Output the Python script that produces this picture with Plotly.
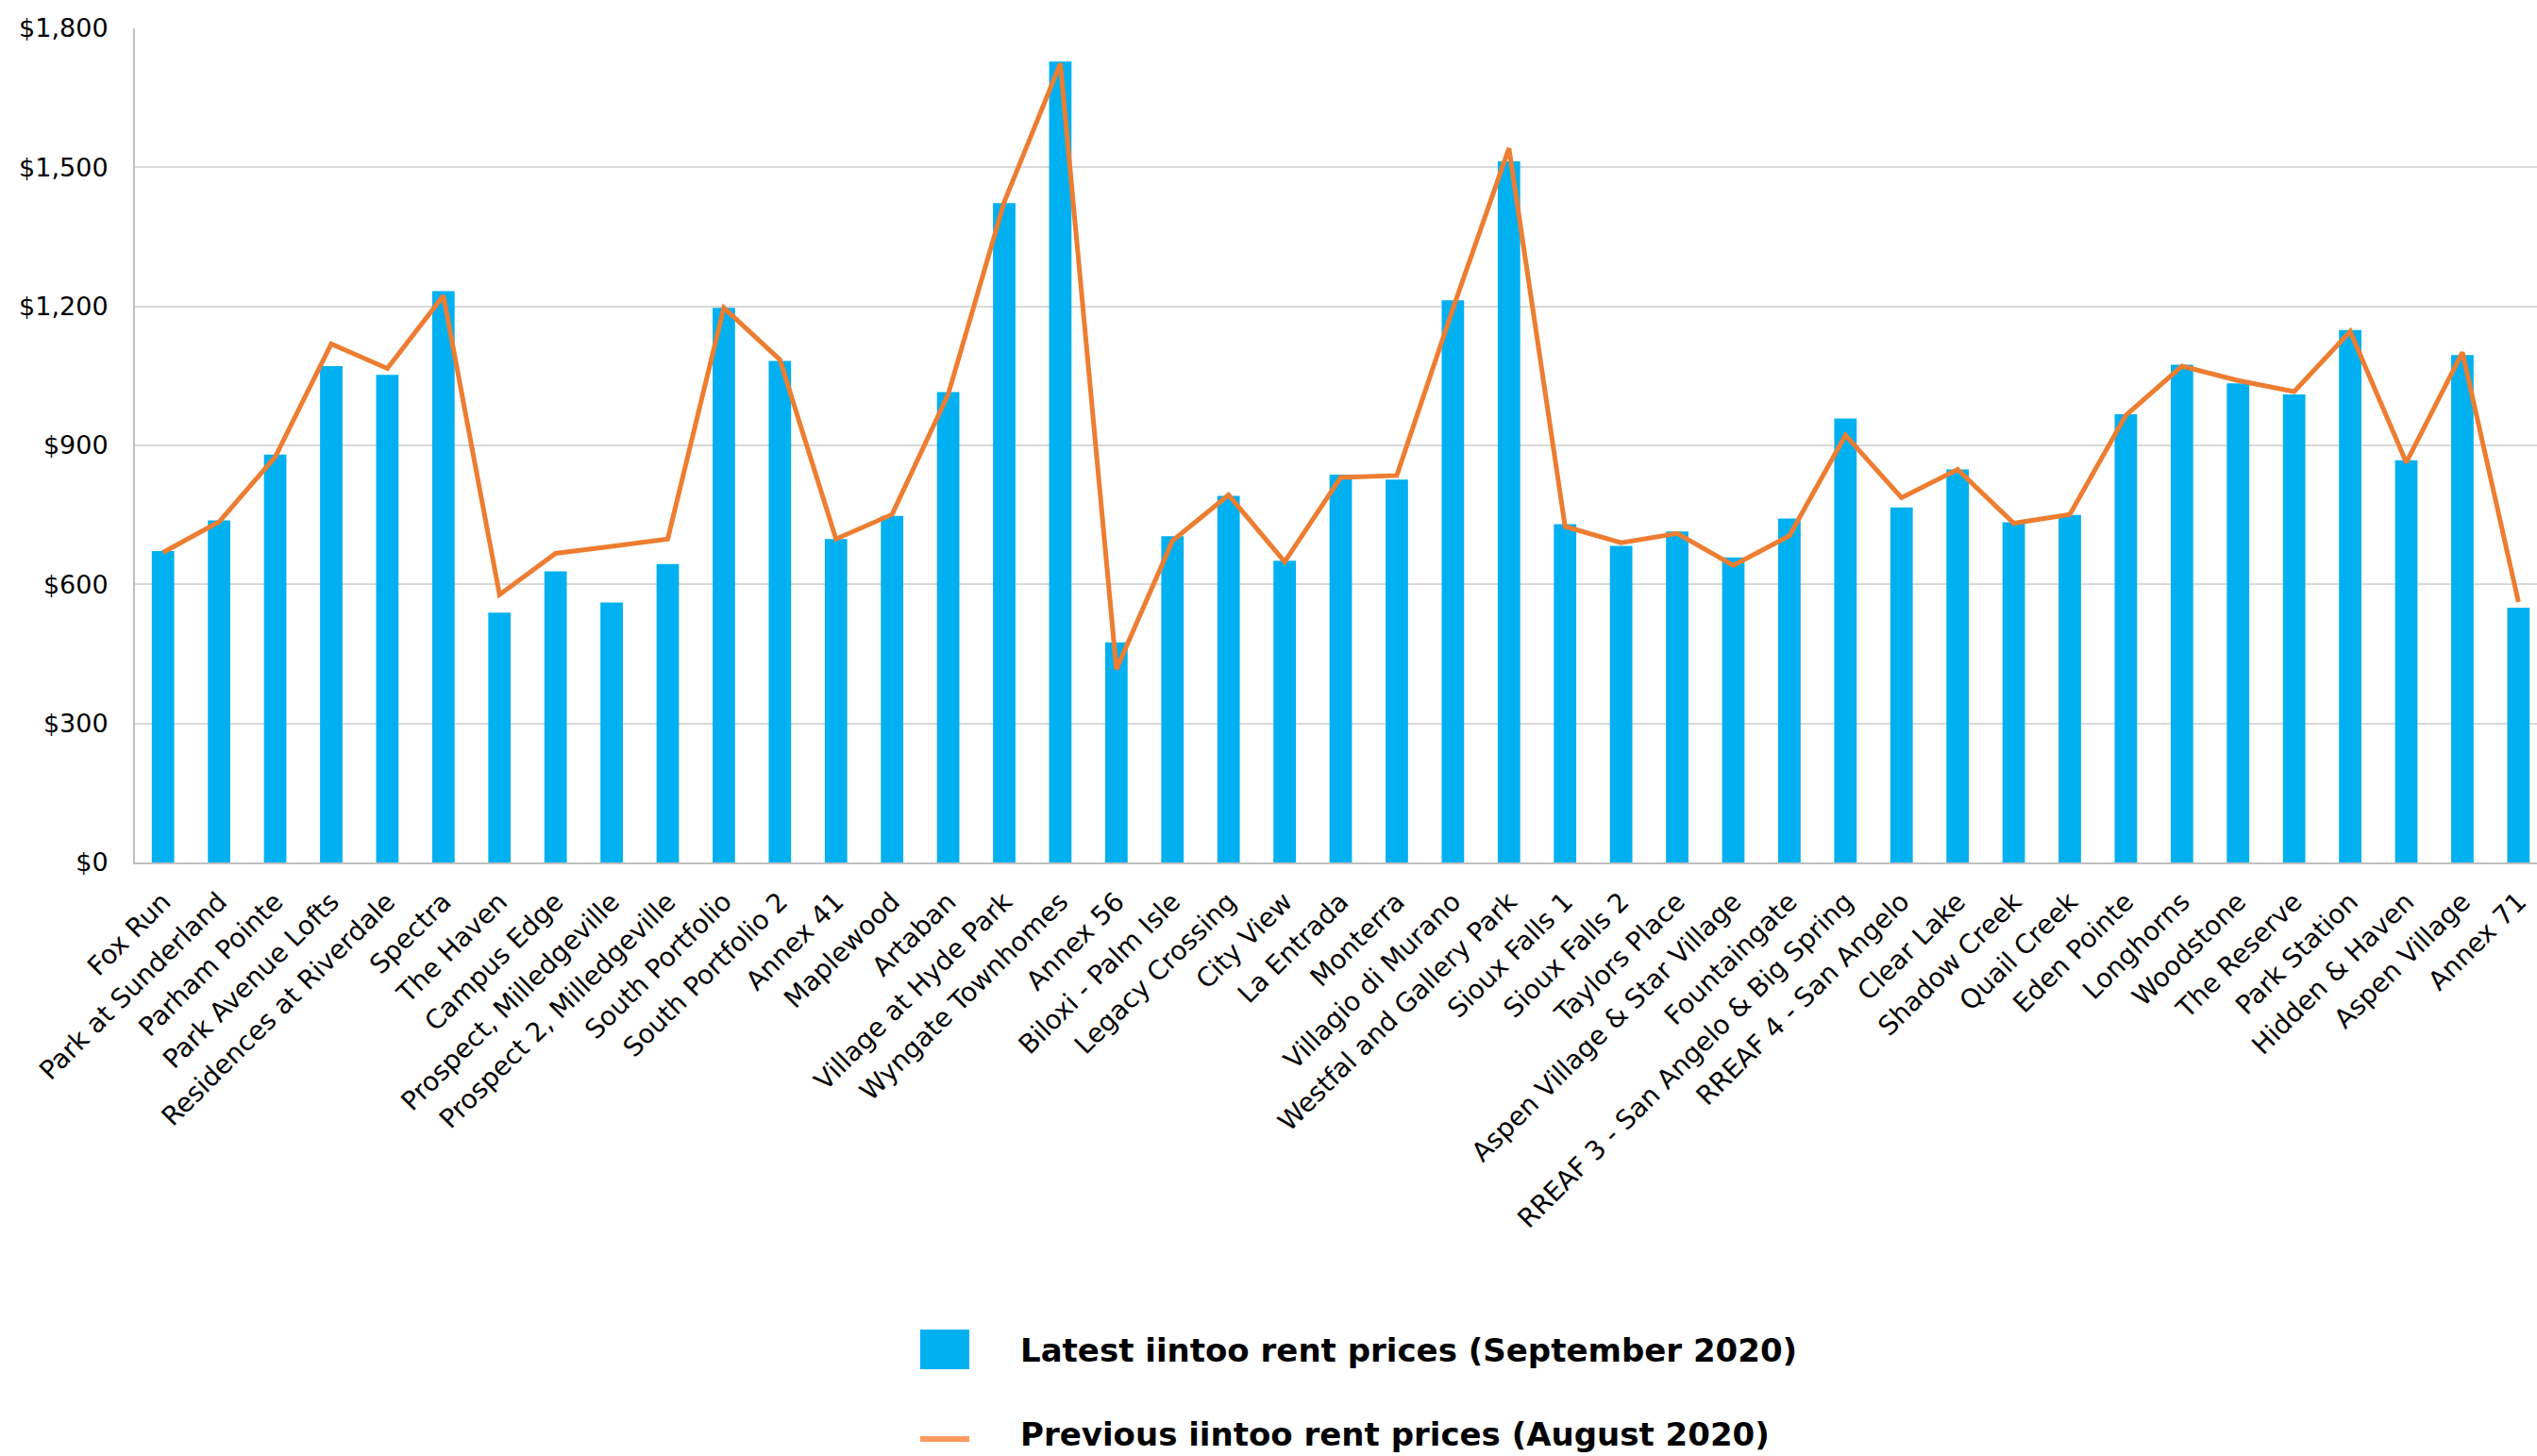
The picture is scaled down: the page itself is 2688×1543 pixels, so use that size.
import plotly.graph_objects as go

W, H = 2688, 1543

properties = [
    "Fox Run", "Park at Sunderland", "Parham Pointe", "Park Avenue Lofts",
    "Residences at Riverdale", "Spectra", "The Haven", "Campus Edge",
    "Prospect, Milledgeville", "Prospect 2, Milledgeville", "South Portfolio",
    "South Portfolio 2", "Annex 41", "Maplewood", "Artaban", "Village at Hyde Park",
    "Wyngate Townhomes", "Annex 56", "Biloxi - Palm Isle", "Legacy Crossing",
    "City View", "La Entrada", "Monterra", "Villagio di Murano",
    "Westfal and Gallery Park", "Sioux Falls 1", "Sioux Falls 2", "Taylors Place",
    "Aspen Village & Star Village", "Fountaingate", "RREAF 3 - San Angelo & Big Spring",
    "RREAF 4 - San Angelo", "Clear Lake", "Shadow Creek", "Quail Creek",
    "Eden Pointe", "Longhorns", "Woodstone", "The Reserve", "Park Station",
    "Hidden & Haven", "Aspen Village", "Annex 71",
]

latest_sep_2020 = [
    672, 738, 880, 1071, 1052, 1233, 539, 628, 561, 644, 1197, 1082, 698,
    748, 1015, 1423, 1728, 475, 704, 791, 651, 837, 826, 1213, 1513, 730, 683, 714,
    658, 742, 958, 766, 848, 734, 750, 967, 1074, 1034, 1010, 1149, 868, 1095, 550,
]

previous_aug_2020 = [
    669, 735, 875, 1119, 1066, 1223, 578, 667, 682, 698, 1197, 1085, 698,
    751, 1010, 1425, 1724, 417, 694, 793, 649, 831, 835, 1195, 1541, 725, 690, 710,
    641, 705, 922, 787, 848, 732, 751, 965, 1071, 1040, 1016, 1146, 863, 1101, 562,
]

y_ticks = [0, 300, 600, 900, 1200, 1500, 1800]

name_latest = "Latest iintoo rent prices (September 2020)"
name_previous = "Previous iintoo rent prices (August 2020)"

BLUE = "#00B0F0"
ORANGE = "#ED7D31"
LEGEND_ORANGE = "#FF9A5E"
FONT = "DejaVu Sans"

# plot area in pixels
L, T, B = 143, 30, 914
R = W
cat_w = 59.42
n_visible = (R - L) / cat_w

fig = go.Figure()
fig.add_trace(go.Bar(
    x=properties, y=latest_sep_2020, name=name_latest,
    marker=dict(color=BLUE, line=dict(width=0)), showlegend=False,
))
fig.add_trace(go.Scatter(
    x=properties, y=previous_aug_2020, name=name_previous, mode="lines",
    line=dict(color=ORANGE, width=5), showlegend=False,
))

def px_x(p):
    return (p - L) / (R - L)

def px_y(p):
    return (B - p) / (B - T)

shapes = [
    dict(type="rect", xref="paper", yref="paper",
         x0=px_x(975), x1=px_x(1027), y0=px_y(1451), y1=px_y(1409),
         fillcolor=BLUE, line=dict(width=0)),
    dict(type="line", xref="paper", yref="paper",
         x0=px_x(975), x1=px_x(1027), y0=px_y(1525), y1=px_y(1525),
         line=dict(color=LEGEND_ORANGE, width=6)),
]
annotations = [
    dict(xref="paper", yref="paper", x=px_x(1079), y=px_y(1431),
         text=f"<b>{name_latest}</b>", showarrow=False, xanchor="left", yanchor="middle",
         font=dict(family=FONT, size=34, color="#000000")),
    dict(xref="paper", yref="paper", x=px_x(1079), y=px_y(1520),
         text=f"<b>{name_previous}</b>", showarrow=False, xanchor="left", yanchor="middle",
         font=dict(family=FONT, size=34, color="#000000")),
]

fig.update_layout(
    width=W, height=H,
    margin=dict(l=L, r=W - R, t=T, b=H - B, pad=0),
    paper_bgcolor="white", plot_bgcolor="white",
    bargap=0.6,
    font=dict(family=FONT, color="#000000"),
    shapes=shapes, annotations=annotations,
    showlegend=False,
)
fig.update_xaxes(
    range=[-0.5, -0.5 + n_visible],
    tickangle=-45, tickfont=dict(size=28, family=FONT),
    showline=True, linecolor="#BFBFBF", linewidth=2,
    showgrid=False, ticks="", ticklabelstandoff=12,
)
fig.update_yaxes(
    range=[0, 1800], tickvals=y_ticks,
    ticktext=[f"${v:,}" for v in y_ticks],
    tickfont=dict(size=27, family=FONT),
    showgrid=True, gridcolor="#D9D9D9", gridwidth=2,
    showline=True, linecolor="#BFBFBF", linewidth=2,
    zeroline=False, ticks="", ticklabelstandoff=21,
)

fig.write_html("out.html")
